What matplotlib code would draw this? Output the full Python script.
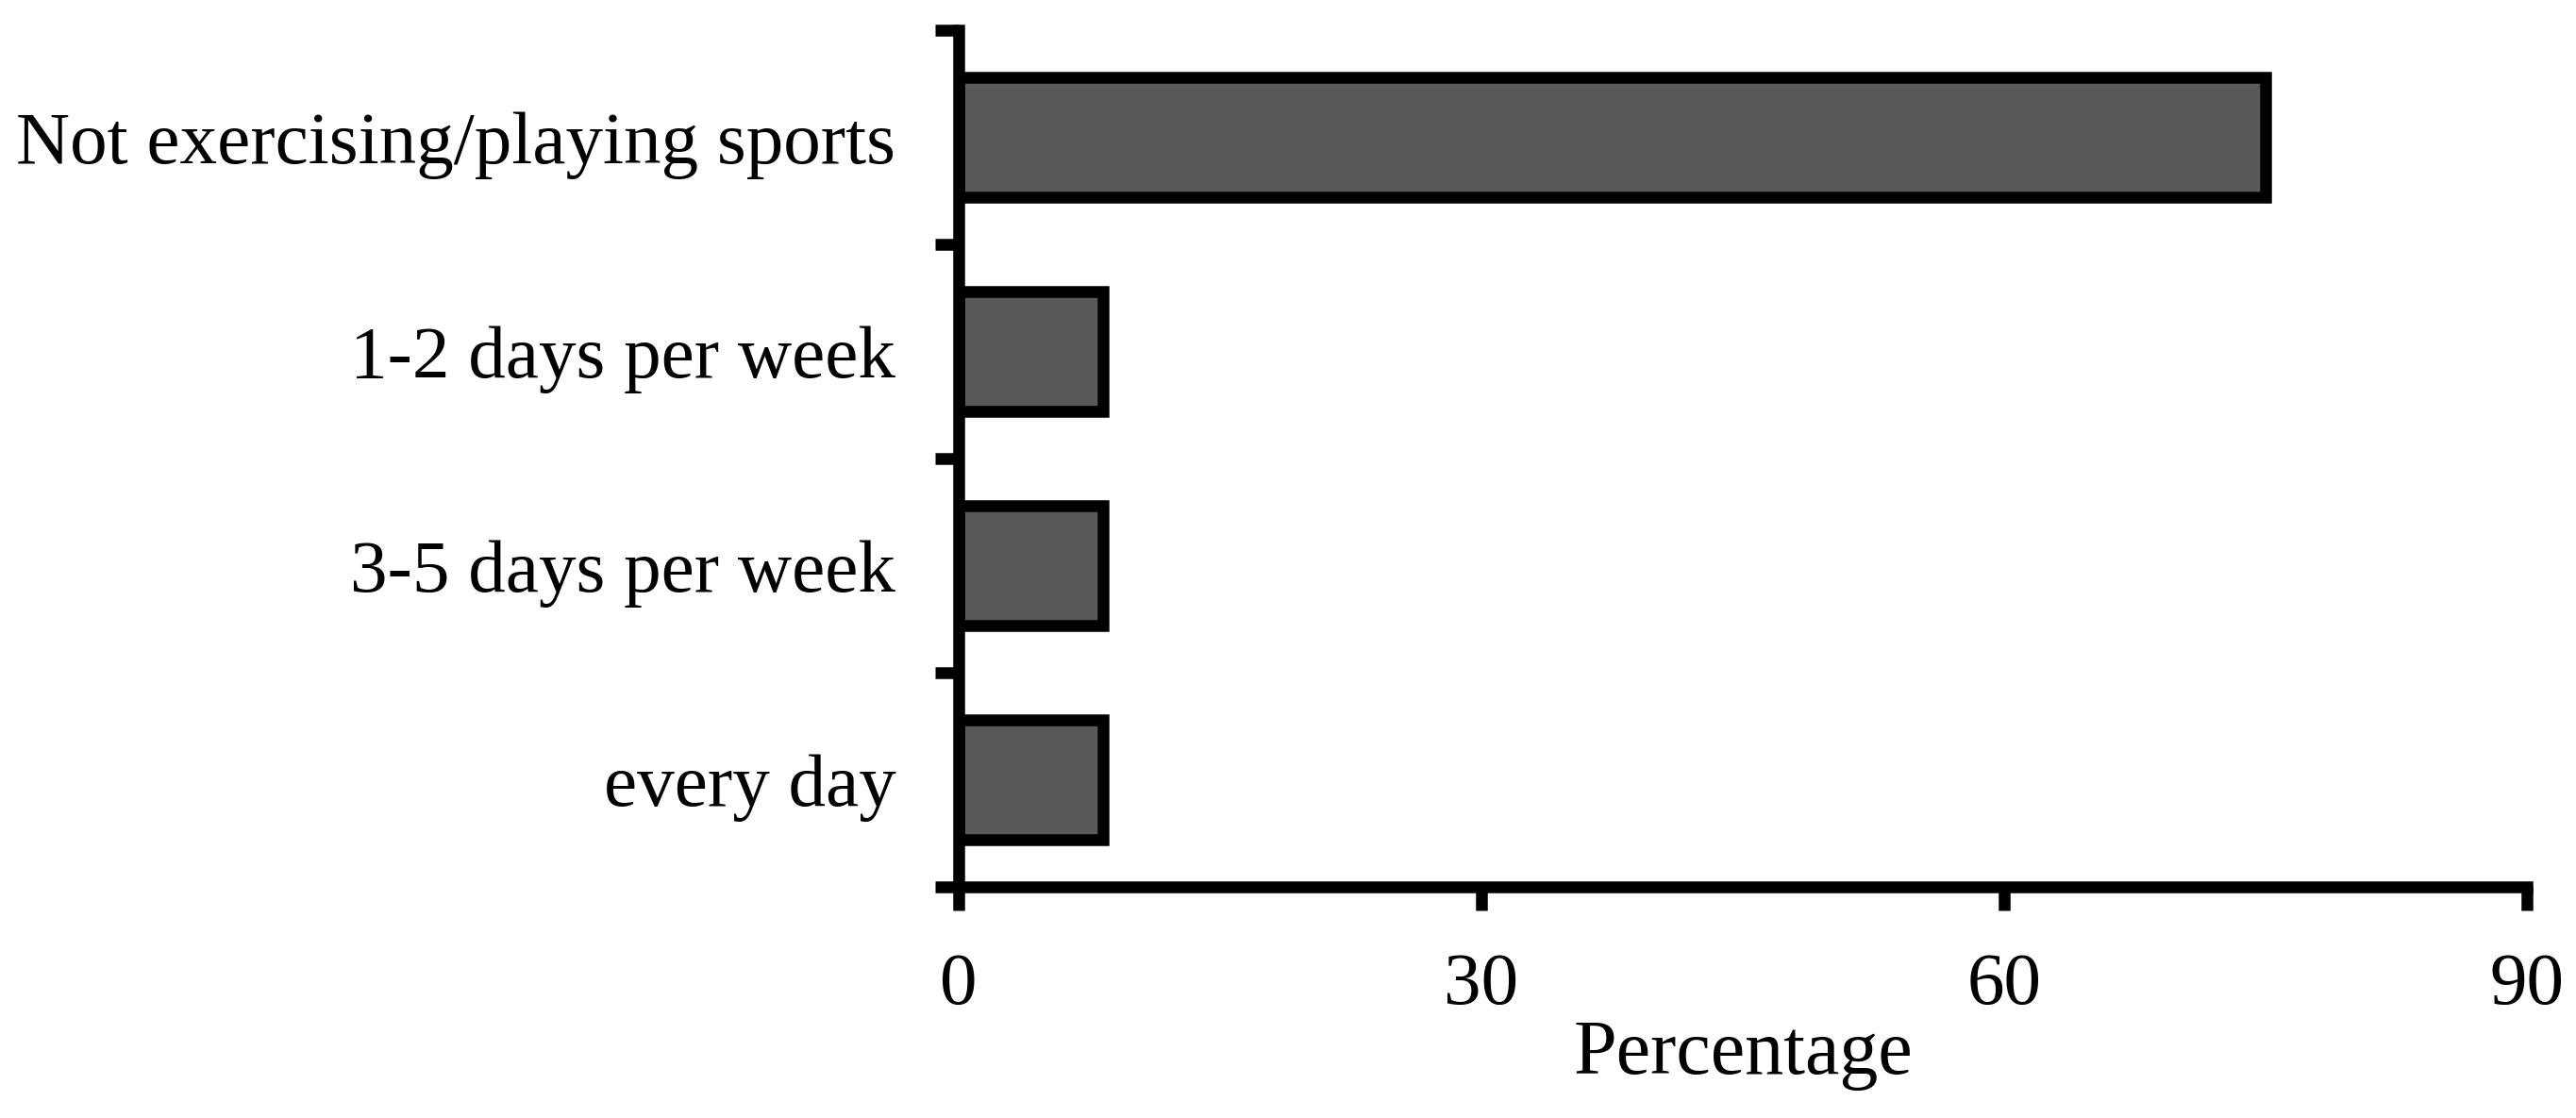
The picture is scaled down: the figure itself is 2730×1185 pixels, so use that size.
import numpy as np
import matplotlib.pyplot as plt

categories = ['Not exercising/playing sports', '1-2 days per week',
              '3-5 days per week', 'every day']
percent = [75.0, 8.3, 8.3, 8.3]
x_ticks = [0, 30, 60, 90]

plt.rcParams['font.family'] = ['Liberation Serif', 'DejaVu Serif']
FS = 57

fig = plt.figure(figsize=(27.3, 11.85), dpi=100)
ax = fig.add_axes([1016 / 2730, 245 / 1185, (2678 - 1016) / 2730, (940 - 32) / 1185])

pos = np.arange(len(categories))
ax.barh(pos, percent, height=0.56, color='#595959', edgecolor='black', linewidth=9)

ax.set_xlim(0, 90)
ax.set_ylim(len(categories) - 0.5, -0.5)  # first category on top

# ticks between categories, labels centred on bars
ax.set_yticks(np.arange(-0.5, len(categories), 1.0))
ax.set_yticklabels([])
ax.set_yticks(pos, minor=True)
ax.set_yticklabels(categories, minor=True)
ax.tick_params(axis='y', which='minor', length=0, pad=48, labelsize=FS)
ax.tick_params(axis='y', which='major', length=18, width=9, direction='out')

ax.set_xticks(x_ticks)
ax.tick_params(axis='x', length=18, width=9, direction='out', pad=32, labelsize=FS)
ax.set_xlabel('Percentage', fontsize=FS + 2, labelpad=0)

for s in ['top', 'right']:
    ax.spines[s].set_visible(False)
for s in ['left', 'bottom']:
    ax.spines[s].set_linewidth(9)

fig.savefig('out.png', dpi=100)
